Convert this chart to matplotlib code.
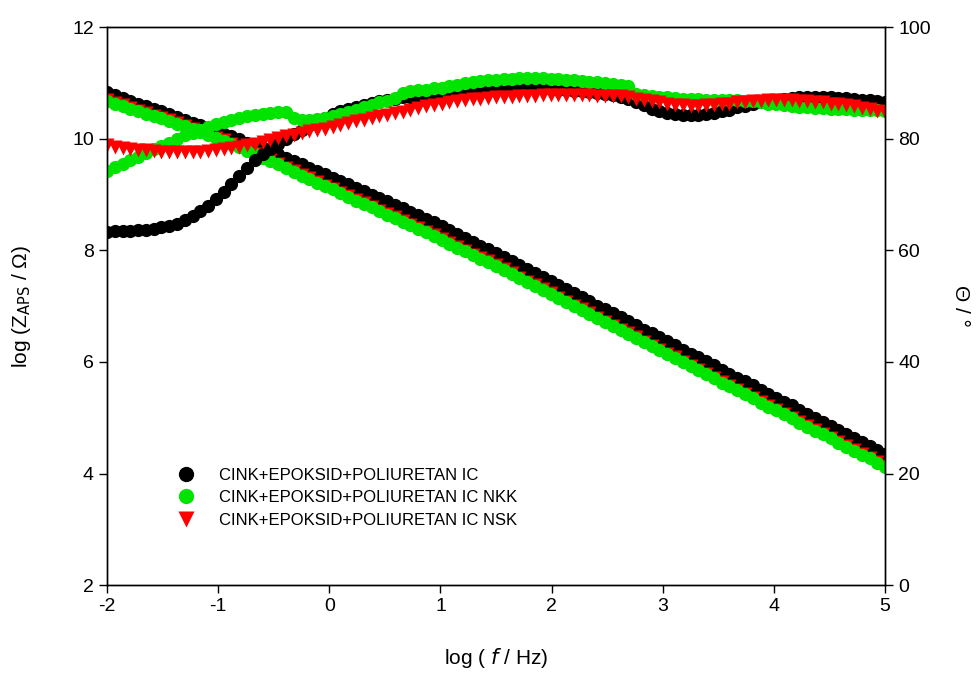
import numpy as np
import matplotlib
matplotlib.use('Agg')
import matplotlib.pyplot as plt
from matplotlib.lines import Line2D

plt.rcParams['font.family'] = ['Liberation Sans', 'DejaVu Sans']
plt.rcParams['axes.unicode_minus'] = False

# log frequency of the measured points
logf = [-2.00, -1.93, -1.86, -1.79, -1.72, -1.65, -1.58, -1.51, -1.44, -1.37,
        -1.30, -1.23, -1.16, -1.09, -1.02, -0.95, -0.88, -0.81, -0.74, -0.67,
        -0.60, -0.53, -0.46, -0.39, -0.32, -0.25, -0.18, -0.11, -0.04, 0.03,
        0.10, 0.17, 0.24, 0.31, 0.38, 0.45, 0.52, 0.59, 0.66, 0.73,
        0.80, 0.87, 0.94, 1.01, 1.08, 1.15, 1.22, 1.29, 1.36, 1.43,
        1.50, 1.57, 1.64, 1.71, 1.78, 1.85, 1.92, 1.99, 2.06, 2.13,
        2.20, 2.27, 2.34, 2.41, 2.48, 2.55, 2.62, 2.69, 2.76, 2.83,
        2.90, 2.97, 3.04, 3.11, 3.18, 3.25, 3.32, 3.39, 3.46, 3.53,
        3.60, 3.67, 3.74, 3.81, 3.88, 3.95, 4.02, 4.09, 4.16, 4.23,
        4.30, 4.37, 4.44, 4.51, 4.58, 4.65, 4.72, 4.79, 4.86, 4.93, 5.00]

labels = ['CINK+EPOKSID+POLIURETAN IC',
          'CINK+EPOKSID+POLIURETAN IC NKK',
          'CINK+EPOKSID+POLIURETAN IC NSK']

# log |Z|
z_ic = [10.83, 10.78, 10.73, 10.68, 10.63, 10.58, 10.53, 10.49, 10.44, 10.39,
        10.34, 10.29, 10.24, 10.19, 10.14, 10.09, 10.04, 9.99, 9.93, 9.88,
        9.83, 9.77, 9.72, 9.66, 9.60, 9.54, 9.48, 9.42, 9.36, 9.30,
        9.24, 9.18, 9.12, 9.06, 9.00, 8.94, 8.88, 8.82, 8.75, 8.69,
        8.63, 8.56, 8.50, 8.43, 8.36, 8.29, 8.22, 8.15, 8.08, 8.02,
        7.95, 7.88, 7.81, 7.73, 7.66, 7.59, 7.52, 7.45, 7.37, 7.30,
        7.23, 7.16, 7.09, 7.01, 6.94, 6.87, 6.80, 6.73, 6.66, 6.58,
        6.51, 6.44, 6.37, 6.30, 6.22, 6.15, 6.08, 6.01, 5.94, 5.86,
        5.79, 5.72, 5.65, 5.58, 5.50, 5.43, 5.36, 5.29, 5.22, 5.14,
        5.07, 5.00, 4.93, 4.86, 4.78, 4.71, 4.64, 4.57, 4.50, 4.42, 4.35]
z_nkk = [10.68, 10.63, 10.59, 10.54, 10.49, 10.45, 10.40, 10.37, 10.32, 10.27,
         10.22, 10.17, 10.12, 10.07, 10.01, 9.96, 9.90, 9.85, 9.78, 9.72,
         9.66, 9.60, 9.54, 9.47, 9.41, 9.34, 9.28, 9.21, 9.15, 9.09,
         9.02, 8.96, 8.89, 8.83, 8.77, 8.70, 8.64, 8.58, 8.51, 8.45,
         8.39, 8.32, 8.26, 8.19, 8.12, 8.05, 7.98, 7.91, 7.85, 7.79,
         7.72, 7.65, 7.58, 7.50, 7.43, 7.36, 7.29, 7.22, 7.14, 7.07,
         7.00, 6.93, 6.86, 6.78, 6.71, 6.64, 6.57, 6.50, 6.43, 6.35,
         6.28, 6.21, 6.14, 6.07, 5.99, 5.92, 5.85, 5.78, 5.71, 5.63,
         5.56, 5.49, 5.42, 5.35, 5.27, 5.20, 5.13, 5.06, 4.99, 4.91,
         4.84, 4.77, 4.70, 4.63, 4.55, 4.48, 4.41, 4.34, 4.27, 4.19, 4.12]
z_nsk = [10.69, 10.64, 10.60, 10.55, 10.50, 10.46, 10.41, 10.38, 10.33, 10.28,
         10.23, 10.18, 10.13, 10.08, 10.02, 9.97, 9.91, 9.86, 9.79, 9.73,
         9.67, 9.61, 9.55, 9.48, 9.42, 9.35, 9.29, 9.22, 9.16, 9.10,
         9.03, 8.97, 8.90, 8.84, 8.78, 8.71, 8.65, 8.59, 8.52, 8.46,
         8.40, 8.33, 8.27, 8.20, 8.13, 8.06, 7.99, 7.92, 7.86, 7.80,
         7.73, 7.66, 7.59, 7.51, 7.44, 7.37, 7.30, 7.23, 7.15, 7.08,
         7.01, 6.94, 6.87, 6.79, 6.72, 6.65, 6.58, 6.51, 6.44, 6.36,
         6.29, 6.22, 6.15, 6.08, 6.00, 5.93, 5.86, 5.79, 5.72, 5.64,
         5.57, 5.50, 5.43, 5.36, 5.28, 5.21, 5.14, 5.07, 5.00, 4.92,
         4.85, 4.78, 4.71, 4.64, 4.56, 4.49, 4.42, 4.35, 4.28, 4.20, 4.13]

# phase angle, degrees
p_ic = [63.3, 63.4, 63.4, 63.5, 63.6, 63.7, 63.9, 64.1, 64.4, 64.8,
        65.4, 66.2, 67.0, 68.0, 69.2, 70.5, 71.8, 73.3, 74.8, 76.1,
        77.2, 78.1, 79.0, 79.9, 80.8, 81.6, 82.4, 83.2, 83.8, 84.4,
        84.9, 85.3, 85.7, 86.1, 86.4, 86.7, 87.0, 87.2, 87.4, 87.5,
        87.7, 87.8, 88.0, 88.1, 88.3, 88.3, 88.4, 88.5, 88.6, 88.6,
        88.7, 88.8, 88.8, 88.9, 89.0, 89.0, 89.0, 88.9, 88.8, 88.8,
        88.6, 88.5, 88.3, 88.2, 88.0, 87.8, 87.5, 87.1, 86.5, 86.0,
        85.4, 85.0, 84.6, 84.4, 84.2, 84.2, 84.2, 84.4, 84.6, 84.9,
        85.2, 85.6, 85.9, 86.2, 86.5, 86.8, 87.0, 87.2, 87.3, 87.4,
        87.5, 87.5, 87.5, 87.4, 87.3, 87.3, 87.2, 87.0, 86.9, 86.7, 86.5]
p_nkk = [74.3, 74.9, 75.5, 76.1, 76.8, 77.5, 78.2, 78.7, 79.3, 80.0,
         80.6, 81.1, 81.6, 82.1, 82.6, 83.0, 83.4, 83.8, 84.0, 84.3,
         84.5, 84.6, 84.8, 84.8, 83.8, 83.4, 83.3, 83.5, 83.7, 84.0,
         84.4, 84.8, 85.2, 85.7, 86.1, 86.5, 86.8, 87.3, 88.2, 88.5,
         88.7, 88.8, 89.0, 89.1, 89.4, 89.7, 90.0, 90.2, 90.3, 90.5,
         90.6, 90.7, 90.7, 90.8, 90.8, 90.8, 90.8, 90.7, 90.7, 90.6,
         90.5, 90.4, 90.2, 90.1, 89.9, 89.8, 89.6, 89.4, 88.0, 87.8,
         87.6, 87.5, 87.4, 87.3, 87.2, 87.1, 87.1, 87.0, 87.0, 87.0,
         86.9, 86.9, 86.8, 86.7, 86.5, 86.3, 86.2, 86.0, 85.9, 85.7,
         85.6, 85.5, 85.5, 85.4, 85.3, 85.3, 85.2, 85.2, 85.1, 85.1, 85.0]
p_nsk = [78.8, 78.6, 78.4, 78.2, 78.0, 77.9, 77.8, 77.7, 77.6, 77.6,
         77.6, 77.7, 77.7, 77.8, 78.0, 78.1, 78.3, 78.6, 78.8, 79.1,
         79.5, 79.8, 80.2, 80.4, 80.7, 81.0, 81.3, 81.6, 81.8, 82.1,
         82.5, 82.8, 83.2, 83.4, 83.7, 84.0, 84.3, 84.6, 84.8, 85.1,
         85.5, 85.8, 86.1, 86.3, 86.5, 86.7, 86.9, 87.1, 87.2, 87.3,
         87.4, 87.5, 87.5, 87.6, 87.7, 87.7, 87.8, 87.8, 87.8, 87.8,
         87.8, 87.8, 87.8, 87.7, 87.7, 87.7, 87.6, 87.4, 87.2, 87.0,
         86.7, 86.5, 86.3, 86.1, 86.0, 85.9, 85.9, 86.0, 86.1, 86.2,
         86.3, 86.5, 86.6, 86.7, 86.8, 86.9, 86.9, 86.9, 86.9, 86.8,
         86.7, 86.6, 86.5, 86.3, 86.2, 86.0, 85.8, 85.5, 85.3, 85.0, 84.7]

black = 'black'
green = '#00e400'
red = '#ff0000'
ms = 9.5

fig = plt.figure(figsize=(9.78, 6.78), dpi=100)
ax = fig.add_axes([0.1094, 0.137, 0.7956, 0.823])
ax2 = ax.twinx()

ax.plot(logf, z_ic, 'o', color=black, ms=ms, mec='none')
ax.plot(logf, z_nsk, 'v', color=red, ms=ms + 1, mec='none')
ax.plot(logf, z_nkk, 'o', color=green, ms=ms, mec='none')

ax2.plot(logf, p_ic, 'o', color=black, ms=ms, mec='none')
ax2.plot(logf, p_nkk, 'o', color=green, ms=ms, mec='none')
ax2.plot(logf, p_nsk, 'v', color=red, ms=ms + 1, mec='none')

ax.set_xlim(-2, 5)
ax.set_ylim(2, 12)
ax2.set_ylim(0, 100)
ax.set_xticks(range(-2, 6))
ax.set_yticks([2, 4, 6, 8, 10, 12])
ax2.set_yticks([0, 20, 40, 60, 80, 100])

for a in (ax, ax2):
    a.tick_params(direction='out', length=6, width=1, labelsize=14)
    for s in a.spines.values():
        s.set_linewidth(1)

ax.set_xlabel('log ( $f$ / Hz)', fontsize=15, labelpad=22)
ax.set_ylabel('log (Z$_{\\mathrm{APS}}$ / \u03a9)', fontsize=15, labelpad=28)
ax2.set_ylabel('\u0398 / \u00b0', fontsize=15, rotation=270, labelpad=28)

handles = [Line2D([], [], ls='none', marker='o', color=black, ms=11, mec='none'),
           Line2D([], [], ls='none', marker='o', color=green, ms=11, mec='none'),
           Line2D([], [], ls='none', marker='v', color=red, ms=11, mec='none')]
ax.legend(handles, labels, loc='center left', bbox_to_anchor=(0.072, 0.157),
          frameon=False, fontsize=12, handlelength=1.0, handletextpad=1.45,
          labelspacing=0.45)

fig.savefig('out.png', dpi=100)
